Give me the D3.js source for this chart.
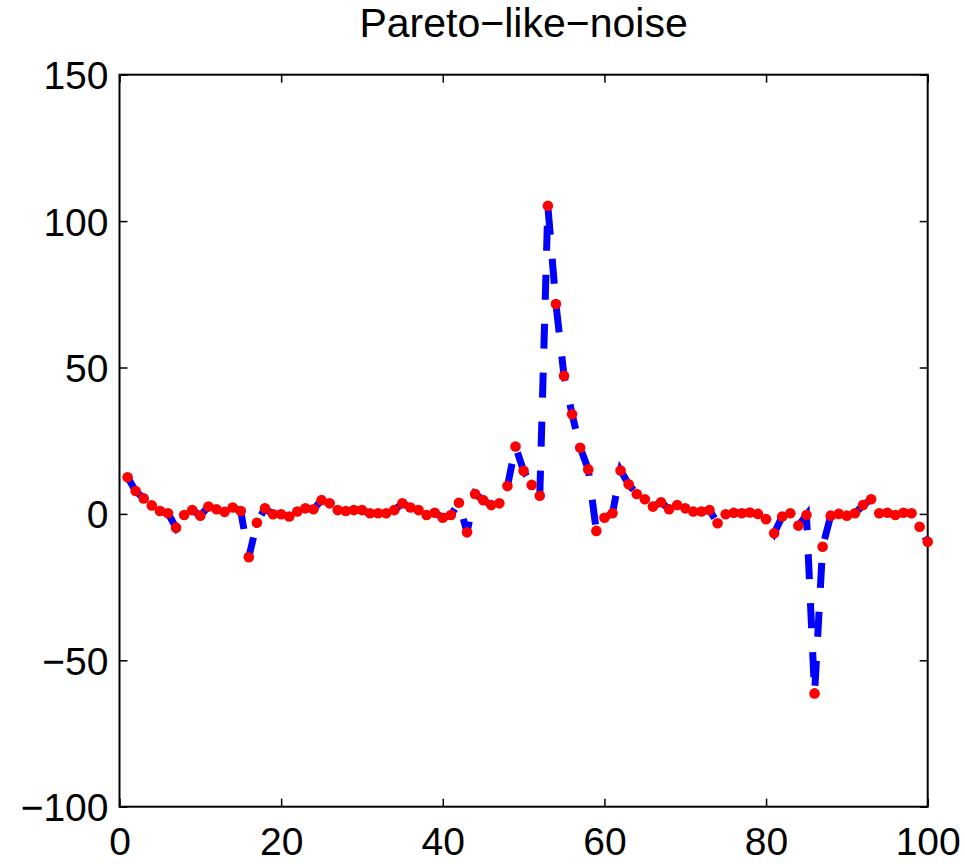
<!DOCTYPE html>
<html>
<head>
<meta charset="utf-8">
<style>
body { margin: 0; background: #fff; }
svg { display: block; }
.tick-label { font-family: "Liberation Sans", Arial, sans-serif; font-size: 39px; fill: #000; }
.title { font-family: "Liberation Sans", Arial, sans-serif; font-size: 41px; fill: #000; }
</style>
</head>
<body>
<svg id="chart" width="965" height="864"></svg>
<script src="https://cdn.jsdelivr.net/npm/d3@7"></script>
<script>

// sample index 1..100
var xValues = d3.range(1, 101);

// noise values
var yValues = [
  12.5, 7.8, 5.3, 2.9, 1.0, 0.2, -4.7, -0.4, 1.3, -0.6,
  2.5, 1.6, 0.7, 2.2, 1.0, -14.8, -3.0, 1.9, -0.1, -0.1,
  -0.9, 0.8, 1.9, 1.6, 4.7, 3.6, 1.3, 1.0, 1.3, 1.3,
  0.2, 0.2, 0.2, 1.3, 3.6, 2.2, 1.3, -0.4, 0.4, -1.3,
  -0.4, 3.8, -6.3, 6.8, 4.7, 3.0, 3.6, 9.5, 23.0, 14.7,
  9.9, 6.2, 105.2, 71.7, 47.2, 34.0, 22.6, 15.2, -5.8, -1.3,
  0.2, 14.8, 10.1, 6.8, 5.0, 2.5, 4.0, 1.6, 3.0, 1.9,
  0.8, 0.8, 1.3, -3.2, -0.1, 0.4, 0.2, 0.5, 0.0, -1.8,
  -6.6, -0.9, 0.2, -4.0, -0.4, -61.3, -11.2, -0.6, 0.0, -0.6,
  0.2, 3.0, 5.0, 0.2, 0.4, -0.4, 0.4, 0.2, -4.4, -9.5
];

var xTicks = [0, 20, 40, 60, 80, 100];
var yTicks = [-100, -50, 0, 50, 100, 150];
var titleText = "Pareto\u2212like\u2212noise";

var data = xValues.map(function(x, i) { return { x: x, y: yValues[i] }; });

var svg = d3.select("#chart"),
  margin = { top: 74.7, right: 37.3, bottom: 57.3, left: 119.5 },
  width = +svg.attr("width") - margin.left - margin.right,
  height = +svg.attr("height") - margin.top - margin.bottom;

var x = d3.scaleLinear().domain([0, 100]).range([0, width]),
  y = d3.scaleLinear().domain([-100, 150]).range([height, 0]);

var g = svg.append("g")
  .attr("transform", "translate(" + margin.left + "," + margin.top + ")");

// title
svg.append("text")
  .attr("class", "title")
  .attr("x", margin.left + width / 2)
  .attr("y", 37)
  .attr("text-anchor", "middle")
  .text(titleText);

// ticks inside on all four sides (box on)
var tickLen = 8;
var tickFmt = function(d) { return d < 0 ? "\u2212" + Math.abs(d) : String(d); };

function styleAxis(sel) {
  sel.select(".domain").remove();
  sel.selectAll(".tick line").attr("stroke", "#000").attr("stroke-width", 1.5);
  sel.selectAll(".tick text").attr("class", "tick-label").attr("font-size", null).attr("font-family", null);
}

g.append("g")
  .attr("transform", "translate(0," + height + ")")
  .call(d3.axisBottom(x).tickValues(xTicks).tickSize(-tickLen).tickPadding(tickLen + 13).tickFormat(tickFmt))
  .call(styleAxis)
  .selectAll("text").attr("dy", "0.71em");

g.append("g")
  .call(d3.axisTop(x).tickValues(xTicks).tickSize(-tickLen).tickFormat(""))
  .call(styleAxis);

g.append("g")
  .call(d3.axisLeft(y).tickValues(yTicks).tickSize(-tickLen).tickPadding(tickLen + 3).tickFormat(tickFmt))
  .call(styleAxis)
  .selectAll("text").attr("dy", "0.36em");

g.append("g")
  .attr("transform", "translate(" + width + ",0)")
  .call(d3.axisRight(y).tickValues(yTicks).tickSize(-tickLen).tickFormat(""))
  .call(styleAxis);

// box
g.append("rect")
  .attr("width", width)
  .attr("height", height)
  .attr("fill", "none")
  .attr("stroke", "#000")
  .attr("stroke-width", 2);

var line = d3.line()
  .x(function(d) { return x(d.x); })
  .y(function(d) { return y(d.y); });

g.append("path")
  .datum(data)
  .attr("fill", "none")
  .attr("stroke", "#0000ff")
  .attr("stroke-width", 7)
  .attr("stroke-dasharray", "25,24")
  .attr("stroke-linejoin", "miter")
  .attr("d", line);

g.selectAll(".dot")
  .data(data)
  .enter().append("circle")
  .attr("class", "dot")
  .attr("cx", function(d) { return x(d.x); })
  .attr("cy", function(d) { return y(d.y); })
  .attr("r", 5.3)
  .attr("fill", "#ff0000");

</script>
</body>
</html>
